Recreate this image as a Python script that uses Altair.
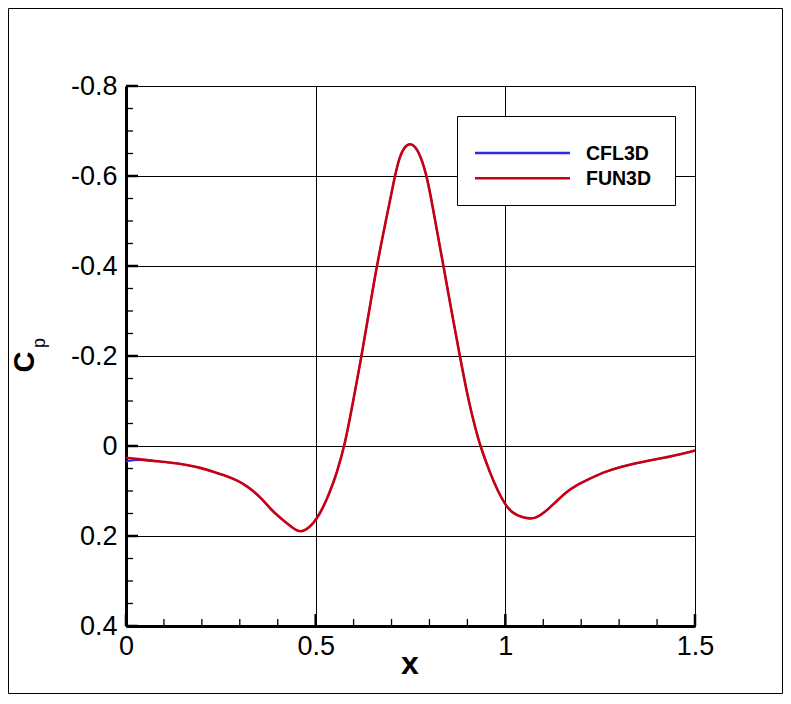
import altair as alt
import pandas as pd

# ---- data ----
x_pts = [0.0, 0.03, 0.072, 0.12, 0.16, 0.20, 0.23, 0.26, 0.292, 0.315,
         0.336, 0.36, 0.38, 0.40, 0.424, 0.444, 0.459, 0.474, 0.494, 0.51,
         0.529, 0.545, 0.555, 0.577, 0.599, 0.621, 0.641, 0.661, 0.685, 0.709,
         0.722, 0.735, 0.749, 0.762, 0.775, 0.794, 0.815, 0.837, 0.858, 0.880,
         0.903, 0.920, 0.933, 0.960, 0.98, 1.003, 1.02, 1.039, 1.065, 1.08,
         1.10, 1.13, 1.162, 1.19, 1.214, 1.267, 1.337, 1.40, 1.425, 1.46, 1.5]

cp_fun3d = [0.026, 0.029, 0.033, 0.037, 0.042, 0.049, 0.057, 0.065, 0.076, 0.087,
            0.100, 0.119, 0.139, 0.155, 0.172, 0.185, 0.191, 0.187, 0.172, 0.152,
            0.120, 0.085, 0.061, -0.002, -0.1, -0.2, -0.3, -0.4, -0.5, -0.602,
            -0.645, -0.666, -0.673, -0.666, -0.648, -0.6, -0.5, -0.4, -0.3, -0.2,
            -0.1, -0.043, -0.002, 0.061, 0.100, 0.135, 0.149, 0.157, 0.162, 0.160,
            0.150, 0.127, 0.101, 0.086, 0.076, 0.055, 0.039, 0.029, 0.025, 0.019, 0.010]

cp_cfl3d = [0.034, 0.030, 0.033, 0.037, 0.042, 0.049, 0.057, 0.065, 0.076, 0.087,
            0.100, 0.119, 0.139, 0.155, 0.172, 0.185, 0.191, 0.187, 0.172, 0.152,
            0.120, 0.085, 0.061, -0.002, -0.1, -0.2, -0.3, -0.4, -0.5, -0.602,
            -0.645, -0.666, -0.673, -0.666, -0.648, -0.6, -0.5, -0.4, -0.3, -0.2,
            -0.1, -0.043, -0.002, 0.061, 0.100, 0.135, 0.149, 0.157, 0.162, 0.160,
            0.150, 0.127, 0.101, 0.086, 0.076, 0.055, 0.039, 0.029, 0.025, 0.019, 0.010]

series_names = ["CFL3D", "FUN3D"]
series_colors = ["#2b2be6", "#c80014"]

x_major = [0.0, 0.5, 1.0, 1.5]
x_minor = [0.1, 0.2, 0.3, 0.4, 0.6, 0.7, 0.8, 0.9, 1.1, 1.2, 1.3, 1.4]
y_major = [-0.8, -0.6, -0.4, -0.2, 0.0, 0.2, 0.4]
y_minor = [-0.75, -0.7, -0.65, -0.55, -0.5, -0.45, -0.35, -0.3, -0.25,
           -0.15, -0.1, -0.05, 0.05, 0.1, 0.15, 0.25, 0.3, 0.35]

x_title = "x"
y_title_main = "C"
y_title_sub = "p"

# ---- layout ----
W, H = 569, 540
PAD_L, PAD_T, PAD_R, PAD_B = 118, 78, 88, 68
FONT = "Liberation Sans"

xs = alt.Scale(domain=[0, 1.5], nice=False, zero=False)
ys = alt.Scale(domain=[-0.8, 0.4], reverse=True, nice=False, zero=False)

x_axis = alt.Axis(values=x_major, title=None, grid=True, ticks=False, tickSize=0,
                  labelPadding=7, labelFlush=False, labelOverlap=False,
                  labelExpr="toString(datum.value)")
y_axis = alt.Axis(values=y_major, title=None, grid=True, ticks=False, tickSize=0,
                  labelPadding=9, labelFlush=False, labelOverlap=False,
                  labelExpr="toString(datum.value)")

one = pd.DataFrame({"k": [0]})

layers = []

# outer frame around the whole figure
layers.append(
    alt.Chart(one).mark_rect(fill="white", stroke="black", strokeWidth=1, fillOpacity=0)
    .encode(x=alt.value(-PAD_L + 0.5), x2=alt.value(W + PAD_R - 0.5),
            y=alt.value(-PAD_T + 0.5), y2=alt.value(H + PAD_B - 0.5))
)

# curves (CFL3D underneath, FUN3D on top)
for name, color, vals, sw in [("CFL3D", series_colors[0], cp_cfl3d, 1.8),
                              ("FUN3D", series_colors[1], cp_fun3d, 2.6)]:
    df = pd.DataFrame({"x": x_pts, "cp": vals, "series": name})
    layers.append(
        alt.Chart(df).mark_line(color=color, strokeWidth=sw, interpolate="basis")
        .encode(x=alt.X("x:Q", scale=xs, axis=x_axis),
                y=alt.Y("cp:Q", scale=ys, axis=y_axis))
    )

# inward ticks
layers.append(
    alt.Chart(pd.DataFrame({"x": x_major})).mark_rule(color="black", strokeWidth=2.5)
    .encode(x=alt.X("x:Q", scale=xs, axis=x_axis), y=alt.value(H), y2=alt.value(H - 12))
)
layers.append(
    alt.Chart(pd.DataFrame({"x": x_minor})).mark_rule(color="black", strokeWidth=1.3)
    .encode(x=alt.X("x:Q", scale=xs, axis=x_axis), y=alt.value(H), y2=alt.value(H - 7))
)
layers.append(
    alt.Chart(pd.DataFrame({"cp": y_major})).mark_rule(color="black", strokeWidth=2.5)
    .encode(y=alt.Y("cp:Q", scale=ys, axis=y_axis), x=alt.value(0), x2=alt.value(12))
)
layers.append(
    alt.Chart(pd.DataFrame({"cp": y_minor})).mark_rule(color="black", strokeWidth=1.3)
    .encode(y=alt.Y("cp:Q", scale=ys, axis=y_axis), x=alt.value(0), x2=alt.value(7))
)

# legend box
layers.append(
    alt.Chart(one).mark_rect(fill="white", stroke="black", strokeWidth=1)
    .encode(x=alt.value(331.5), x2=alt.value(549.5), y=alt.value(30.5), y2=alt.value(119.5))
)
for i, (name, color) in enumerate(zip(series_names, series_colors)):
    yy = 67 + 25.3 * i
    layers.append(
        alt.Chart(one).mark_rule(color=color, strokeWidth=2.5)
        .encode(x=alt.value(349), x2=alt.value(444), y=alt.value(yy))
    )
    layers.append(
        alt.Chart(one).mark_text(text=name, font=FONT, fontSize=19.5, fontWeight="bold",
                                 align="left", baseline="middle", color="black")
        .encode(x=alt.value(460), y=alt.value(yy + 0.5))
    )

# axis titles
layers.append(
    alt.Chart(one).mark_text(text=x_title, font=FONT, fontSize=32, fontWeight="bold",
                             align="center", baseline="middle", color="black")
    .encode(x=alt.value(284), y=alt.value(578))
)
layers.append(
    alt.Chart(one).mark_text(text=y_title_main, font=FONT, fontSize=29, fontWeight="bold",
                             align="center", baseline="middle", angle=270, color="black")
    .encode(x=alt.value(-101), y=alt.value(276))
)
layers.append(
    alt.Chart(one).mark_text(text=y_title_sub, font=FONT, fontSize=18,
                             align="center", baseline="middle", angle=270, color="black")
    .encode(x=alt.value(-86), y=alt.value(257))
)

chart = alt.layer(*layers).properties(
    width=W, height=H,
    autosize=alt.AutoSizeParams(type="none"),
    padding={"left": PAD_L, "top": PAD_T, "right": PAD_R, "bottom": PAD_B},
    background="white",
).configure_view(
    stroke="black", strokeWidth=1
).configure_axis(
    domainColor="black", domainWidth=3,
    gridColor="black", gridWidth=1, gridOpacity=1,
    labelFont=FONT, labelFontSize=27, labelColor="black",
)

chart.save("out.html", embed_options={"renderer": "svg", "actions": False})
